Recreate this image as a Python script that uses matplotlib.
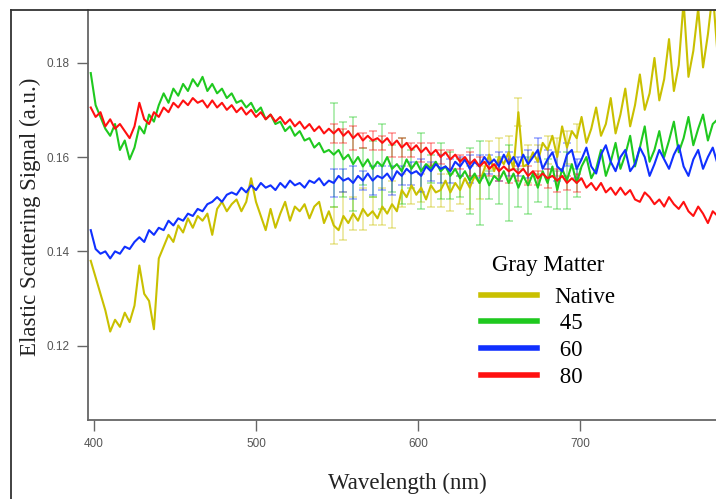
import matplotlib
matplotlib.use("Agg")
import matplotlib.pyplot as plt
import numpy as np
from matplotlib.lines import Line2D

# elastic scattering spectra, gray matter (values x 1e-3), sampled every 3 nm from 398 to 785 nm
native = np.array([
    138.0, 134.5, 131.0, 127.5, 123.0, 125.5, 124.0, 127.0, 125.0, 128.5,
    137.0, 131.0, 129.5, 123.5, 138.5, 141.0, 143.5, 142.0, 145.5, 144.0,
    147.0, 145.0, 147.5, 146.5, 148.0, 143.5, 149.0, 150.5, 148.5, 150.0,
    151.0, 148.5, 150.5, 155.5, 150.5, 147.5, 144.5, 149.0, 145.0, 148.0,
    150.5, 146.5, 149.5, 148.5, 150.0, 147.0, 149.5, 150.5, 146.0, 148.5,
    145.5, 144.5, 147.5, 146.0, 148.0, 146.5, 149.0, 147.5, 148.5, 147.0,
    149.5, 148.0, 150.0, 148.5, 153.0, 151.5, 154.0, 152.0, 153.5, 151.0,
    154.0, 152.5, 153.0, 155.0, 152.5, 154.5, 153.0, 155.5, 153.5, 156.0,
    154.5, 157.5, 160.5, 157.0, 160.0, 158.5, 161.0, 157.5, 169.5, 158.0,
    158.5, 161.0, 159.0, 163.0, 161.5, 164.5, 160.0, 166.5, 162.0, 165.5,
    164.0, 168.5, 163.0, 166.0, 170.5, 164.5, 167.0, 172.5, 165.0, 169.0,
    174.5, 166.5, 171.0, 177.5, 170.0, 173.5, 181.0, 172.0, 176.5, 185.0,
    174.0, 179.5, 193.0, 177.0, 182.5, 191.5, 179.0, 186.0, 195.0, 181.5,
]) / 1000

t45 = np.array([
    177.8, 171.0, 168.5, 166.0, 164.5, 167.0, 161.5, 163.5, 159.5, 162.0,
    166.5, 165.0, 169.0, 167.5, 171.0, 173.5, 171.5, 174.5, 173.0, 175.5,
    174.0, 176.5, 175.0, 177.0, 174.0, 175.5, 173.5, 174.5, 172.5, 173.5,
    171.5, 172.0, 170.5, 171.5, 169.5, 170.5, 168.0, 169.0, 167.0, 167.5,
    165.5, 166.5, 164.5, 165.5, 163.5, 164.0, 162.0, 163.0, 161.0, 161.5,
    160.5, 161.5, 159.5, 160.5, 158.5, 160.0, 158.0, 159.5, 157.5, 159.0,
    158.0, 160.0, 157.5, 158.5, 157.0, 159.5, 157.5, 159.0, 157.0, 158.5,
    157.5, 159.0, 157.0, 158.0, 156.0, 157.5, 155.5, 157.0, 155.0, 156.5,
    154.5, 156.5, 154.0, 156.0, 155.0, 157.0, 154.5, 156.5, 153.5, 156.0,
    154.0, 156.5, 153.5, 157.0, 154.5, 158.0, 153.0, 157.5, 155.0, 158.5,
    154.5, 158.0, 160.0, 155.5, 157.5, 161.5, 156.0, 159.0, 163.0, 157.5,
    160.5, 164.5, 158.0, 162.0, 166.5, 159.0, 161.5, 165.5, 160.0, 163.5,
    167.5, 161.0, 164.0, 168.5, 162.5, 166.0, 169.0, 163.5, 167.0, 168.0,
]) / 1000

t60 = np.array([
    144.5, 140.5, 139.5, 140.0, 138.5, 140.0, 139.5, 141.0, 140.5, 142.0,
    143.0, 142.0, 144.5, 143.5, 145.0, 144.5, 146.5, 145.5, 147.0, 146.5,
    148.0, 147.5, 149.0, 148.5, 150.0, 150.5, 151.5, 150.5, 152.0, 152.5,
    152.0, 153.5, 152.5, 154.0, 153.0, 154.5, 153.5, 154.0, 153.0, 154.5,
    153.5, 155.0, 154.0, 154.5, 153.5, 155.0, 154.5, 155.5, 154.0, 155.0,
    154.5, 156.0, 155.0, 155.5, 154.5, 156.0, 155.0, 156.5, 155.0, 156.0,
    155.5, 156.5, 155.0, 157.0, 156.0, 157.5, 156.5, 157.0, 156.0, 158.0,
    157.0, 158.5, 157.5, 158.0, 157.0, 159.0, 158.0, 159.5, 157.5, 159.0,
    158.0, 160.0, 158.5, 159.5, 158.0, 160.5, 158.5, 160.0, 158.0, 160.5,
    158.5, 160.0, 161.5, 157.5, 159.5, 161.0, 158.0, 157.0, 160.5, 161.5,
    157.5, 159.5, 162.0, 158.0, 156.5, 160.5, 162.5, 159.0, 157.0, 160.0,
    161.5, 157.0, 158.5, 162.0, 160.0, 156.0, 158.5, 161.5, 159.5, 157.5,
    160.5, 162.5, 158.0, 156.0, 159.5, 161.5, 157.5, 160.0, 162.0, 158.5,
]) / 1000

t80 = np.array([
    170.5, 168.5, 169.5, 166.5, 168.0, 166.0, 167.0, 165.5, 164.0, 166.5,
    171.5, 168.0, 167.0, 169.5, 168.5, 170.5, 169.5, 171.5, 170.5, 172.0,
    171.0, 172.5, 171.5, 172.0, 170.5, 172.0, 170.5, 171.5, 170.0, 171.0,
    169.5, 170.5, 169.0, 170.0, 168.5, 169.5, 168.0, 169.0, 167.5, 168.5,
    167.0, 168.0, 166.5, 167.5, 166.0, 167.0, 165.5, 166.5, 165.0, 166.0,
    165.0, 166.0, 164.5, 165.5, 164.0, 165.0, 163.5, 164.5, 163.5, 164.0,
    163.0, 164.0, 162.5, 163.5, 162.0, 163.0, 161.5, 162.5, 161.0, 162.0,
    160.5, 161.5, 160.0, 161.0, 159.5, 160.5, 159.0, 160.0, 158.5, 159.5,
    158.0, 159.0, 157.5, 158.5, 157.0, 158.0, 157.0, 157.5, 156.5, 157.5,
    156.0, 157.0, 155.5, 156.5, 155.5, 156.0, 155.0, 156.0, 154.5, 155.5,
    154.5, 155.5, 153.5, 154.5, 153.0, 154.5, 152.5, 153.5, 152.0, 153.5,
    152.0, 153.0, 151.0, 150.5, 152.5, 151.5, 150.0, 151.0, 149.5, 151.5,
    150.0, 149.0, 150.5, 148.5, 147.5, 149.5, 148.0, 146.0, 148.5, 147.5,
]) / 1000

# standard deviations every 6 nm from 548 to 698 nm (x 1e-3)
err_native = np.array([4.0, 5.0, 3.5, 4.5, 3.0, 4.0, 5.0, 3.5, 4.0, 3.0, 4.5, 3.5, 4.0,
                       3.0, 4.5, 3.5, 3.0, 4.0, 3.5, 3.0, 4.0, 3.5, 3.0, 4.0, 3.5, 3.0]) / 1000
err_45 = np.array([11, 8, 10, 4, 6, 9, 5, 7, 4, 8, 3, 6, 5,
                   4, 7, 9, 3, 5, 8, 4, 6, 3, 5, 4, 6, 3]) / 1000
err_60 = np.array([3.0, 2.5, 3.5, 2.0, 3.0, 2.5, 3.0, 2.0, 2.5, 3.5, 2.0, 3.0, 2.5,
                   2.0, 3.0, 2.5, 2.0, 3.0, 2.5, 2.0, 3.0, 2.5, 2.0, 3.0, 2.5, 2.0]) / 1000
err_80 = np.array([2.0, 1.5, 2.5, 1.5, 2.0, 1.5, 2.5, 2.0, 1.5, 2.0, 2.5, 1.5, 2.0,
                   1.5, 2.5, 2.0, 1.5, 2.0, 2.5, 1.5, 2.0, 1.5, 2.0, 2.5, 1.5, 2.0]) / 1000

labels = ["Native", " 45", " 60", " 80"]
colors = ["#c9c000", "#1fc91f", "#1030ff", "#ff1010"]
series = [native, t45, t60, t80]
errors = [err_native, err_45, err_60, err_80]

serif = ["Liberation Serif", "DejaVu Serif"]

fig = plt.figure(figsize=(7.16, 4.99), dpi=100)
ax = fig.add_axes([88 / 716, 79 / 499, 628 / 716, 410 / 499])

lines = []
for vals, err, col, lab in zip(series, errors, colors, labels):
    wl = np.linspace(398, 785, len(vals))
    # error bars on every second sample between 548 and 698 nm
    sel = slice(50, 101, 2)
    ax.errorbar(wl[sel], vals[sel], yerr=err, fmt="none", ecolor=col,
                alpha=0.4, elinewidth=1.2, capsize=3, capthick=1.2, zorder=1)
    ln, = ax.plot(wl, vals, color=col, lw=1.5, label=lab, zorder=2)
    lines.append(ln)

ax.set_xlim(396.3, 784)
ax.set_ylim(0.10425, 0.19117)
ax.set_xticks([400, 500, 600, 700])
ax.set_yticks([0.12, 0.14, 0.16, 0.18])
ax.set_yticklabels(["0.12", "0.14", "0.16", "0.18"])

for s in ["top", "right"]:
    ax.spines[s].set_visible(False)
for s in ["left", "bottom"]:
    ax.spines[s].set_color("#666666")
    ax.spines[s].set_linewidth(1.3)

ax.tick_params(direction="out", length=8, width=1, color="#666666",
               labelsize=8.5, labelcolor="#555555", pad=5)
for t in ax.get_xticklabels() + ax.get_yticklabels():
    t.set_family("Liberation Sans")

ax.set_xlabel("Wavelength (nm)", family=serif, fontsize=16.5, color="#222222")
ax.set_ylabel("Elastic Scattering Signal (a.u.)", family=serif, fontsize=16.5,
              color="#222222")
ax.xaxis.set_label_coords(0.508, -0.128)
ax.yaxis.set_label_coords(-0.075, 0.495)

leg = ax.legend(handles=lines, labels=labels, title="Gray Matter", frameon=False,
                loc="upper left", bbox_to_anchor=(0.626, 0.403),
                prop={"family": serif, "size": 16.5}, title_fontsize=16.5,
                handlelength=2.45, handletextpad=0.75, labelspacing=0.24,
                borderpad=0, borderaxespad=0)
leg.get_title().set_family(serif)
leg._legend_box.sep = 8
for h in leg.get_lines():
    h.set_linewidth(4)

# outer frame of the panel
fig.add_artist(Line2D([11 / 716, 11 / 716], [0, 1 - 10 / 499], color="#333333", lw=1.3))
fig.add_artist(Line2D([11 / 716, 1], [1 - 10 / 499, 1 - 10 / 499], color="#333333", lw=1.3))

fig.savefig("out.png", dpi=100)
